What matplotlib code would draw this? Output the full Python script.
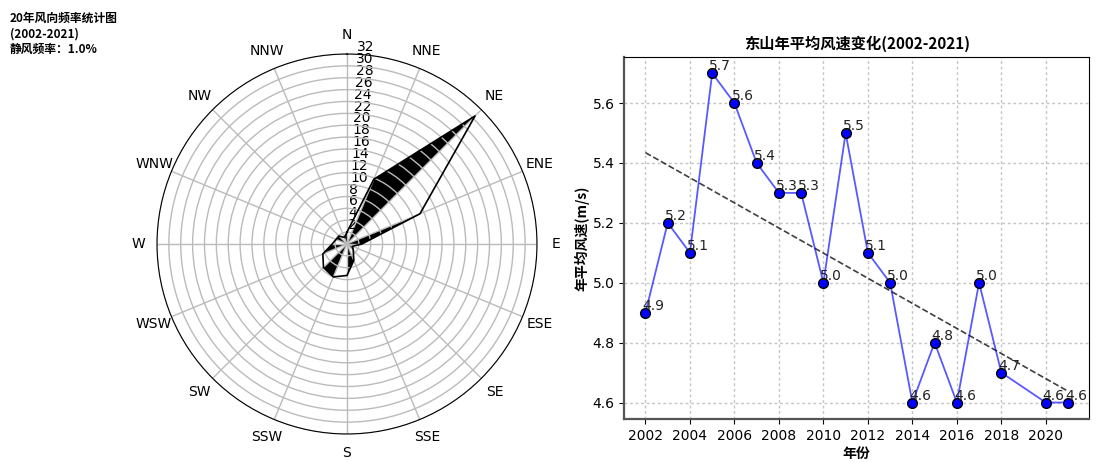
import numpy as np
import matplotlib
matplotlib.use('Agg')
import matplotlib.pyplot as plt

plt.rcParams['font.family'] = ['DejaVu Sans', 'Noto Sans CJK SC']
cjk = ['Noto Sans CJK SC', 'DejaVu Sans']

# wind rose data (frequency %, 16 directions, clockwise from N)
directions = ['N', 'NNE', 'NE', 'ENE', 'E', 'ESE', 'SE', 'SSE',
              'S', 'SSW', 'SW', 'WSW', 'W', 'WNW', 'NW', 'NNW']
freq = [2.0, 11.8, 30.5, 13.3, 2.5, 1.0, 1.5, 3.0,
        5.3, 6.0, 5.6, 4.4, 2.5, 2.0, 1.9, 1.2]
calm_rate = 1.0

# annual mean wind speed (2019 missing)
years = [2002, 2003, 2004, 2005, 2006, 2007, 2008, 2009, 2010, 2011,
         2012, 2013, 2014, 2015, 2016, 2017, 2018, 2020, 2021]
speed = [4.9, 5.2, 5.1, 5.7, 5.6, 5.4, 5.3, 5.3, 5.0, 5.5,
         5.1, 5.0, 4.6, 4.8, 4.6, 5.0, 4.7, 4.6, 4.6]

fig = plt.figure(figsize=(11.07, 4.62), dpi=100)

fig.text(0.009, 0.975, '20年风向频率统计图\n(2002-2021)\n静风频率：%.1f%%' % calm_rate,
         fontsize=8.5, fontweight='bold', va='top', ha='left', family=cjk,
         linespacing=1.25)

# --- wind rose ---
ax1 = fig.add_axes([0.1418, 0.0606, 0.3433, 0.8225], projection='polar')
ax1.set_theta_zero_location('N')
ax1.set_theta_direction(-1)
theta = np.deg2rad(np.arange(0, 360, 22.5))
n = len(freq)
# every other sector filled black
for i in range(1, n, 2):
    j = (i + 1) % n
    ax1.fill([0, theta[i], theta[j]], [0, freq[i], freq[j]],
             color='black', lw=0, zorder=1)
ax1.plot(np.append(theta, theta[0]), freq + freq[:1], color='black', lw=1.2, zorder=3)
ax1.set_thetagrids(np.arange(0, 360, 22.5), directions, fontsize=10)
ax1.set_rgrids(np.arange(2, 33, 2), fontsize=10)
ax1.set_rlabel_position(3)
ax1.set_ylim(0, 32)
ax1.grid(color='#bbbbbb', lw=1.0)
ax1.tick_params(axis='x', pad=3)

# --- annual mean wind speed ---
ax2 = fig.add_axes([0.564, 0.0931, 0.4199, 0.7842])
ax2.plot(years, speed, color='blue', alpha=0.65, lw=1.3, zorder=3)
ax2.plot(years, speed, 'o', mfc='blue', mec='black', ms=7, zorder=4)
k, b = np.polyfit(years, speed, 1)
ax2.plot([years[0], years[-1]], [k * years[0] + b, k * years[-1] + b],
         '--', color='black', alpha=0.75, lw=1.2, zorder=2)
for x, v in zip(years, speed):
    ax2.annotate('%.1f' % v, (x, v), xytext=(-3, 0), textcoords='offset pixels',
                 ha='left', va='bottom', fontsize=10, color='#222222', zorder=5)
ax2.set_xticks(range(2002, 2021, 2))
ax2.set_yticks([4.6, 4.8, 5.0, 5.2, 5.4, 5.6])
ax2.tick_params(labelsize=10)
ax2.grid(True, ls=(0, (2, 2)), color='#c4c4c4', lw=1.0)
for s in ['left', 'bottom']:
    ax2.spines[s].set_linewidth(1.6)
    ax2.spines[s].set_color('#555555')
ax2.set_title('东山年平均风速变化(2002-2021)', fontsize=11, fontweight='bold',
              family=cjk, pad=6)
ax2.set_xlabel('年份', fontsize=10, fontweight='bold', family=cjk, labelpad=3)
ax2.set_ylabel('年平均风速(m/s)', fontsize=10, fontweight='bold', family=cjk,
               labelpad=2)

fig.savefig('out.png', dpi=100)
